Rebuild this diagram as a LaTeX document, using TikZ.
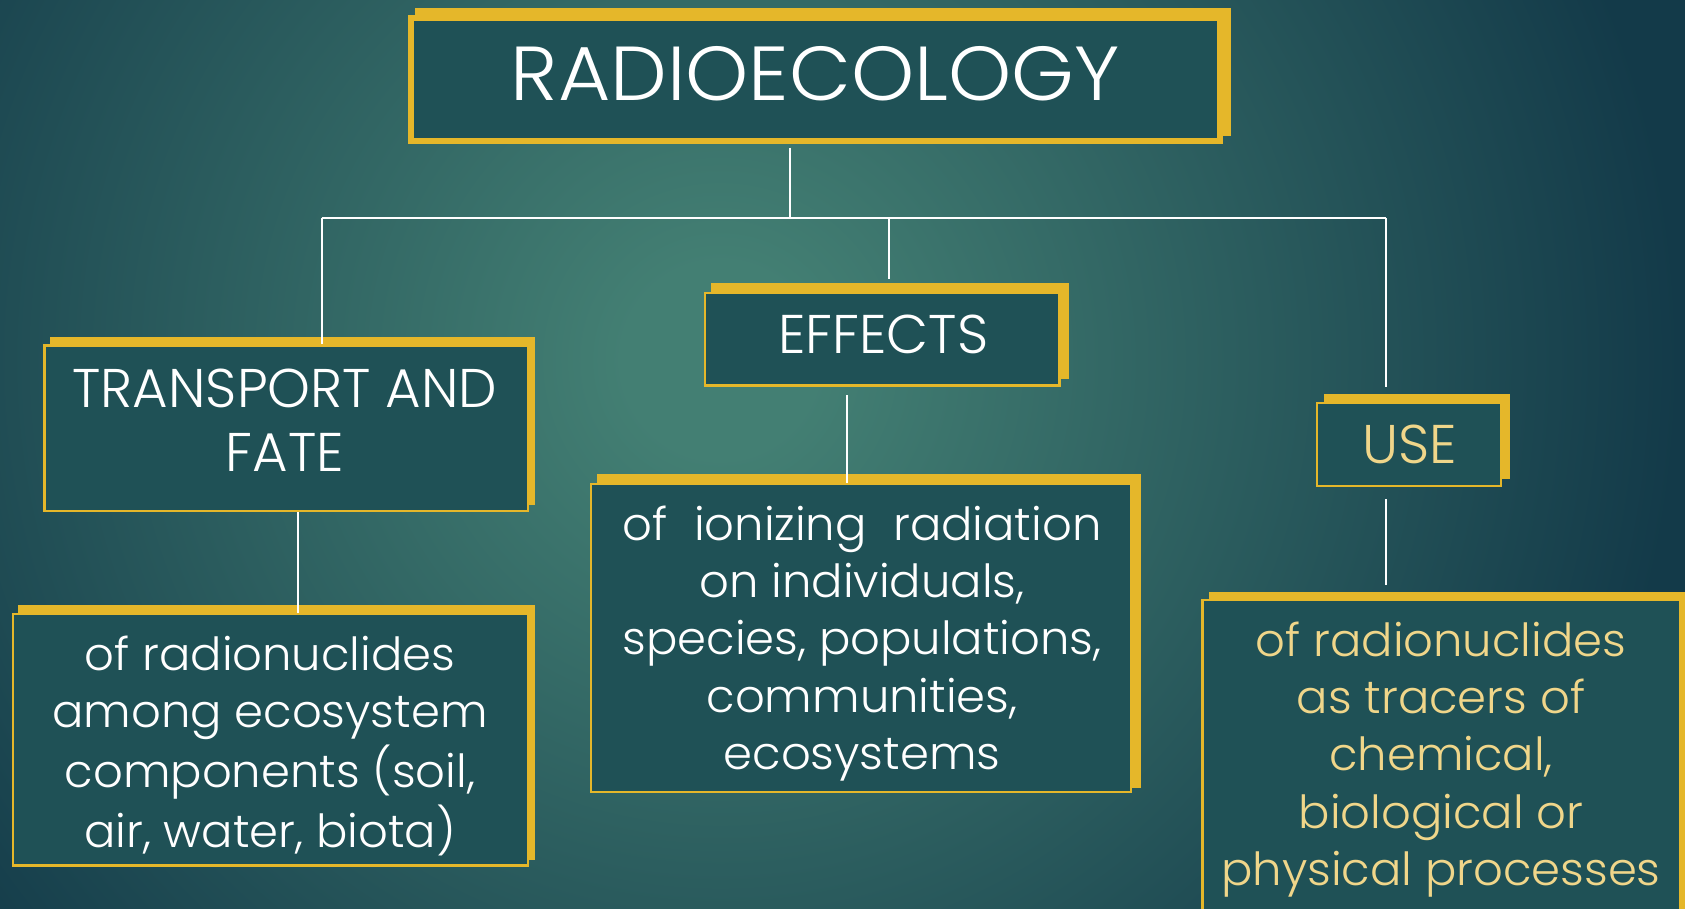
\documentclass[tikz,border=0pt]{standalone}
\usepackage{fontspec}
\setmainfont{Poppins Light}
\newfontfamily\titlef{Poppins Light}[FakeStretch=1.05]
\newfontfamily\bodyf{Poppins Light}[FakeStretch=1.02]
\usetikzlibrary{fit}
\definecolor{bgin}{HTML}{437F73}
\definecolor{bgout}{HTML}{133A49}
\definecolor{boxfill}{HTML}{1F5156}
\definecolor{gold}{HTML}{E5B72A}
\definecolor{goldtext}{HTML}{F0D68A}
% path half-size 1200 maps to 25bp; gradient radius about 950
\pgfdeclareradialshading{bgshade}{\pgfpoint{0bp}{0bp}}{color(0bp)=(bgin); color(2bp)=(bgin); color(20bp)=(bgout); color(50bp)=(bgout)}
\newlength\effw
\tikzset{
  backbox/.style={fill=gold, draw=none, inner sep=0pt},
  frontbox/.style={fill=boxfill, draw=gold, line width=2.5pt, inner sep=0pt},
  conn/.style={draw=white, line width=2pt},
  txt/.style={anchor=base, inner sep=0pt, text=white},
  titlefont/.style={font=\titlef\fontsize{76.5}{90}\selectfont},
  headfont/.style={font=\fontsize{54.5}{64.3}\selectfont},
  bodyfont/.style={font=\bodyf\fontsize{45.6}{57.4}\selectfont},
}
\begin{document}
\begin{tikzpicture}[x=1pt,y=-1pt]
\useasboundingbox (0,0) rectangle (1685,908);
% background
\fill[bgout] (0,0) rectangle (1685,908);
\begin{scope}
  \clip (0,0) rectangle (1685,908);
  \shade[shading=bgshade] (-480,-840) rectangle (1920,1560);
\end{scope}

% boxes
\node[backbox, fit={(414.5,7.5) (1230.5,136)}] (titleB) {};
\node[frontbox, line width=6pt, fit={(410.5,18) (1219.5,140.5)}] (title) {};

\node[backbox, fit={(50,336.7) (535,505)}] (tfB) {};
\node[frontbox, fit={(44.5,345.5) (527.8,511.1)}] (tf) {};

\node[backbox, fit={(18.3,605) (535,860)}] (tfdB) {};
\node[frontbox, fit={(12.9,614.2) (527.8,865.5)}] (tfd) {};

\node[backbox, fit={(711,283.3) (1069,379.3)}] (effB) {};
\node[frontbox, fit={(705.2,292.9) (1059.5,385.5)}] (eff) {};

\node[backbox, fit={(597.3,474) (1141,788)}] (effdB) {};
\node[frontbox, fit={(591.2,483.9) (1130.8,792.1)}] (effd) {};

\node[backbox, fit={(1324,393.5) (1510,479)}] (useB) {};
\node[frontbox, fit={(1317.2,403.2) (1500.8,485.8)}] (use) {};

\node[backbox, fit={(1208.5,591.5) (1700,940)}] (usedB) {};
\node[frontbox, fit={(1202.7,600.2) (1679.8,930)}] (used) {};

% connectors
\coordinate (hubT) at (790,217.5);
\coordinate (hubL) at (321.7,217.5);
\coordinate (hubE) at (889,217.5);
\coordinate (hubR) at (1386,217.5);
\coordinate (tfx) at (297.7,0);
\coordinate (effx) at (846.7,0);
\coordinate (usex) at (1386.3,0);

\draw[conn] ([yshift=-4pt]title.south -| hubT) -- (hubT);
\draw[conn] (hubL) -- (hubR);
\draw[conn] (hubL) -- (hubL |- tf.north);
\draw[conn, shorten >=4pt] (hubE) -- (hubE |- effB.north);
\draw[conn, shorten >=6.5pt] (hubR) -- (hubR |- useB.north);
\draw[conn] (tf.south -| tfx) -- (tfd.north -| tfx);
\draw[conn, shorten <=8.3pt] (eff.south -| effx) -- (effd.north -| effx);
\draw[conn, shorten <=12pt, shorten >=6pt] (use.south -| usex) -- (usedB.north -| usex);

% texts
\node[txt, titlefont] (titleT) at (815.3,100) {RADIOECOLOGY};
\node[txt, headfont] (tfT) at (285,407.3)
  {\begin{tabular}[t]{@{}c@{}}TRANSPORT AND\\FATE\end{tabular}};
\node[txt, headfont] (effT) at (883.3,353.3) {EFFECTS};
\node[txt, headfont, text=goldtext] (useT) at (1410,463.5) {USE};

\node[txt, bodyfont] (tfdT) at (270,670)
  {\begin{tabular}[t]{@{}c@{}}of radionuclides\\among ecosystem\\components (soil,\\air, water, biota)\end{tabular}};
\node[txt, bodyfont] (effdT) at (862,540)
  {\settowidth{\effw}{species, populations,}\begin{tabular}[t]{@{}c@{}}\makebox[\effw][s]{of ionizing radiation}\\on individuals,\\species, populations,\\communities,\\ecosystems\end{tabular}};
\node[txt, bodyfont, text=goldtext] (usedT) at (1441,656)
  {\begin{tabular}[t]{@{}c@{}}of radionuclides\\as tracers of\\chemical,\\biological or\\physical processes\end{tabular}};
\end{tikzpicture}
\end{document}
